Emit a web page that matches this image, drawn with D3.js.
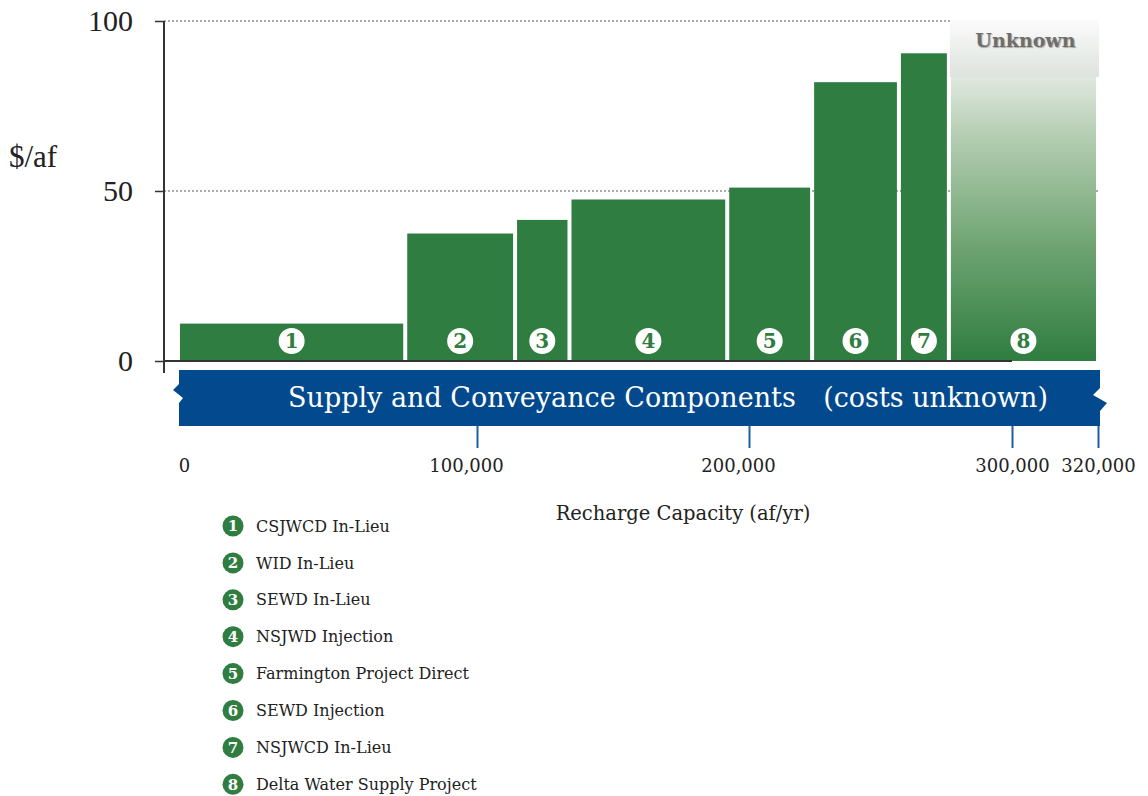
<!DOCTYPE html>
<html>
<head>
<meta charset="utf-8">
<script src="https://cdn.jsdelivr.net/npm/d3@7"></script>
<style>
  body { margin: 0; background: #fff; }
  svg text { font-family: "DejaVu Serif", serif; }
</style>
</head>
<body>
<svg id="chart"></svg>
<script>
let w = 1148;
let h = 796;

// data
let projects = ["CSJWCD In-Lieu", "WID In-Lieu", "SEWD In-Lieu", "NSJWD Injection",
  "Farmington Project Direct", "SEWD Injection", "NSJWCD In-Lieu", "Delta Water Supply Project"];
let capacity = [76000, 38000, 20000, 58000, 32000, 33000, 19000, 44000]; // af/yr
let cost = [11, 37.5, 41.5, 47.5, 51, 82, 90.5, null]; // $/af, null = unknown
let xTicks = [0, 100000, 200000, 300000, 320000];
let yTicks = [0, 50, 100];

let green = "#2f7d40",
  blue = "#024a8d";

let svg = d3.select("#chart").attr("width", w).attr("height", h);

// schematic (non-uniform) capacity axis
let x = d3.scaleLinear().domain(xTicks).range([178, 477, 749, 1012, 1098]);
let y = d3.scaleLinear().domain([0, 100]).range([361, 21]);

// cumulative start of each project
let start = [];
capacity.reduce(function (acc, c, i) { start[i] = acc; return acc + c; }, 0);
let data = projects.map(function (p, i) {
  return { name: p, n: i + 1, x0: start[i], x1: start[i] + capacity[i], cost: cost[i] };
});

let defs = svg.append("defs");
let grad = defs.append("linearGradient").attr("id", "unk").attr("x1", 0).attr("y1", 0).attr("x2", 0).attr("y2", 1);
grad.append("stop").attr("offset", 0).attr("stop-color", "#eef1ee");
grad.append("stop").attr("offset", 0.17).attr("stop-color", "#dfe7de");
grad.append("stop").attr("offset", 0.32).attr("stop-color", "#b8d0b6");
grad.append("stop").attr("offset", 0.66).attr("stop-color", "#6fa472");
grad.append("stop").attr("offset", 1).attr("stop-color", green);
let grad2 = defs.append("linearGradient").attr("id", "box").attr("x1", 0).attr("y1", 0).attr("x2", 0).attr("y2", 1);
grad2.append("stop").attr("offset", 0).attr("stop-color", "#fbfbfb");
grad2.append("stop").attr("offset", 1).attr("stop-color", "#dde3dd");

// gridlines
svg.append("g").selectAll("line")
  .data([50, 100])
  .enter().append("line")
  .attr("x1", 164).attr("x2", x(320000))
  .attr("y1", function (d) { return y(d); })
  .attr("y2", function (d) { return y(d); })
  .attr("stroke", "#555").attr("stroke-width", 1).attr("stroke-dasharray", "2,2");

// bars
svg.append("g").selectAll("rect")
  .data(data)
  .enter().append("rect")
  .attr("x", function (d) { return x(d.x0) + 2; })
  .attr("width", function (d) { return x(d.x1) - x(d.x0) - 4; })
  .attr("y", function (d) { return y(d.cost === null ? 100 : d.cost); })
  .attr("height", function (d) { return y(0) - y(d.cost === null ? 100 : d.cost); })
  .attr("fill", function (d) { return d.cost === null ? "url(#unk)" : green; });

// unknown box on top of last bar
let unk = data[data.length - 1];
svg.append("rect")
  .attr("x", x(unk.x0) + 1).attr("y", y(100) - 1)
  .attr("width", x(unk.x1) - x(unk.x0)).attr("height", 57)
  .attr("fill", "url(#box)");
svg.append("text")
  .attr("x", (x(unk.x0) + x(unk.x1)) / 2 + 2).attr("y", 47)
  .attr("text-anchor", "middle")
  .attr("fill", "#6e6e6e").attr("font-size", "19px").attr("font-weight", "bold")
  .style("text-shadow", "1px 1px 1px #aaa")
  .text("Unknown");

// numbered markers on bars
let marks = svg.append("g").selectAll("g")
  .data(data)
  .enter().append("g")
  .attr("transform", function (d) { return "translate(" + (x(d.x0) + x(d.x1)) / 2 + "," + 341 + ")"; });
marks.append("circle").attr("r", 13).attr("fill", "#fff");
marks.append("text")
  .attr("text-anchor", "middle").attr("dy", "0.36em")
  .attr("fill", green).attr("font-size", "20px").attr("font-weight", "bold")
  .text(function (d) { return d.n; });

// y axis
let yAxis = svg.append("g")
  .attr("transform", "translate(164,0)")
  .call(d3.axisLeft(y).tickValues(yTicks).tickSize(9).tickPadding(22));
yAxis.select(".domain").remove();
yAxis.selectAll("line").attr("stroke", "#333").attr("stroke-width", 1.5);
yAxis.selectAll("text").attr("font-size", "30px").attr("fill", "#222")
  .style("font-family", "Liberation Serif, serif");
svg.append("line")
  .attr("x1", 164).attr("x2", 164).attr("y1", y(100)).attr("y2", y(0) + 12)
  .attr("stroke", "#333").attr("stroke-width", 2);
svg.append("line")
  .attr("x1", 164).attr("x2", x(300000)).attr("y1", y(0)).attr("y2", y(0))
  .attr("stroke", "#333").attr("stroke-width", 2);

svg.append("text")
  .attr("x", 9).attr("y", 167)
  .attr("font-size", "31px").attr("fill", "#222")
  .style("font-family", "Liberation Serif, serif")
  .text("$/af");

// banner
let bl = x(0) + 1, br = x(320000) + 2, bt = 370, bb = 426;
let banner = d3.path();
banner.moveTo(bl, bt);
banner.lineTo(br, bt);
banner.lineTo(br, 388);
banner.lineTo(br - 7, 395);
banner.lineTo(br + 7, 403);
banner.lineTo(br, 411);
banner.lineTo(br, bb);
banner.lineTo(bl, bb);
banner.lineTo(bl, 403);
banner.lineTo(bl + 4, 398);
banner.lineTo(bl - 6, 390);
banner.lineTo(bl, 384);
banner.closePath();

// x axis ticks sit under the banner
let xAxis = svg.append("g")
  .attr("transform", "translate(0,427)")
  .call(d3.axisBottom(x).tickValues(xTicks).tickSize(21).tickPadding(11).tickFormat(d3.format(",")));
xAxis.select(".domain").remove();
xAxis.selectAll("line").attr("stroke", "#1e5ea3").attr("stroke-width", 2)
  .attr("y1", -16)
  .style("display", function (d) { return d === 0 ? "none" : null; });
xAxis.selectAll("text").attr("font-size", "18px").attr("fill", "#222")
  .style("font-family", "DejaVu Serif, serif")
  .attr("dx", function (d) { return d === 0 ? 6 : (d === 100000 || d === 200000 ? -11 : 0); });

svg.append("path").attr("d", banner.toString()).attr("fill", blue);
svg.append("text")
  .attr("x", 288).attr("y", 407)
  .attr("fill", "#fff").attr("font-size", "27px")
  .text("Supply and Conveyance Components");
svg.append("text")
  .attr("x", 1048).attr("y", 407).attr("text-anchor", "end")
  .attr("fill", "#fff").attr("font-size", "27px")
  .text("(costs unknown)");

svg.append("text")
  .attr("x", 683).attr("y", 520).attr("text-anchor", "middle")
  .attr("font-size", "19.5px").attr("fill", "#222")
  .text("Recharge Capacity (af/yr)");

// legend
let legend = svg.append("g").selectAll("g")
  .data(data)
  .enter().append("g")
  .attr("transform", function (d, i) { return "translate(233," + (526 + i * 36.9) + ")"; });
legend.append("circle").attr("r", 10.5).attr("fill", green);
legend.append("text")
  .attr("text-anchor", "middle").attr("dy", "0.36em")
  .attr("fill", "#fff").attr("font-size", "15px").attr("font-weight", "bold")
  .text(function (d) { return d.n; });
legend.append("text")
  .attr("x", 23).attr("dy", "0.35em")
  .attr("fill", "#222").attr("font-size", "16px")
  .text(function (d) { return d.name; });
</script>
</body>
</html>
